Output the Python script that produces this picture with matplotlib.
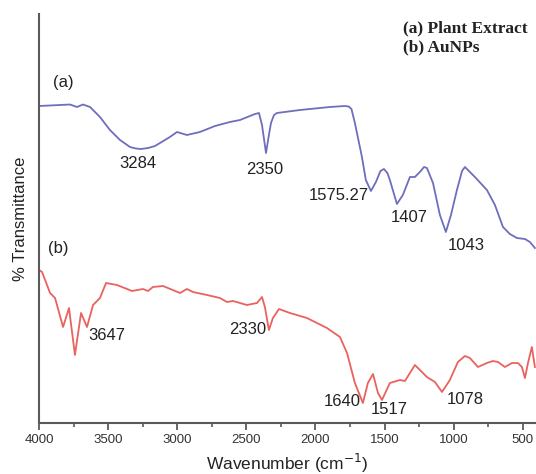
import numpy as np
import matplotlib
matplotlib.use("Agg")
import matplotlib.pyplot as plt
from matplotlib.ticker import MultipleLocator

# FTIR spectra, transmittance in arbitrary units (curves offset vertically)
wn_a = [4000, 3848, 3776, 3725, 3682, 3631, 3559, 3487, 3414, 3342, 3300,
        3262, 3210, 3161, 3053, 3002, 2930, 2836, 2727, 2619, 2546, 2438,
        2409, 2387, 2358, 2337, 2322, 2300, 2279, 2112, 1896, 1787, 1760,
        1740, 1715, 1664, 1636, 1599, 1563, 1530, 1505, 1480, 1462, 1411,
        1368, 1317, 1281, 1245, 1215, 1194, 1150, 1100, 1057, 1020, 977,
        940, 919, 847, 760, 702, 644, 594, 543, 485, 449, 413]
tr_a = [317, 318, 318.5, 316, 318.5, 316, 306, 293, 283, 276, 274.5,
        274, 275, 277, 286, 291, 288, 291, 297, 301, 303, 309,
        310, 298, 270, 288, 300, 308, 310, 313, 316, 317, 316.5,
        314, 300, 266, 243, 232, 241, 252, 254, 250, 243, 219,
        228, 246, 246, 251, 256, 255, 240, 208, 191, 208, 233,
        252, 256, 246, 233, 218, 196, 189, 185, 184, 181, 175]

wn_b = [4000, 3978, 3920, 3884, 3826, 3783, 3740, 3696, 3653, 3609, 3559,
        3515, 3436, 3327, 3248, 3212, 3176, 3103, 2980, 2930, 2886, 2785,
        2691, 2640, 2597, 2496, 2423, 2387, 2366, 2337, 2308, 2264, 2185,
        2062, 1917, 1823, 1772, 1715, 1657, 1621, 1584, 1548, 1519, 1462,
        1389, 1353, 1281, 1194, 1136, 1085, 1028, 970, 919, 883, 825, 760,
        717, 680, 630, 579, 536, 507, 485, 463, 435, 413]
tr_b = [153, 151, 130, 125, 96, 115, 68, 110, 96, 118, 125,
        140, 138, 132, 134, 132, 136, 137, 130, 134, 131, 128,
        125, 121, 122, 118, 120, 126, 116, 93, 105, 114, 110,
        105, 95, 86, 70, 40, 20, 40, 49, 30, 23, 40,
        43, 42, 58, 46, 41, 31, 43, 61, 67, 65, 56, 60,
        62, 61, 56, 60, 60, 56, 45, 60, 76, 56]

# peak labels
labels_a = ["3284", "2350", "1575.27", "1407", "1043"]
label_pos_a = [(3284, 260), (2366, 254), (1830, 227), (1324, 205), (912, 178)]
labels_b = ["3647", "2330", "1640", "1517", "1078"]
label_pos_b = [(3508, 88), (2488, 93), (1809, 21), (1469, 13), (919, 23)]

color_a = "#6e6ebd"
color_b = "#e9625e"
axis_color = "#5a5a5a"
sans = ["Liberation Sans", "DejaVu Sans"]

fig = plt.figure(figsize=(5.36, 4.74), dpi=100)
ax = fig.add_axes([39 / 536, 1 - 423 / 474, 1 - 39 / 536, (423 - 14) / 474])

ax.plot(wn_a, tr_a, color=color_a, lw=1.3, solid_joinstyle="round")
ax.plot(wn_b, tr_b, color=color_b, lw=1.3, solid_joinstyle="round")

ax.set_xlim(4000, 405)
ax.set_ylim(0, 409)

for text, (x, y) in zip(labels_a + labels_b, label_pos_a + label_pos_b):
    ax.text(x, y, text, ha="center", va="center", fontsize=12,
            family=sans, color="#222222")

ax.text(3899, 341, "(a)", ha="left", va="center", fontsize=12, family=sans, color="#222222")
ax.text(3935, 175, "(b)", ha="left", va="center", fontsize=12, family=sans, color="#222222")

fig.text(403 / 536, 1 - 28 / 474, "(a) Plant Extract", ha="left", va="center",
         fontsize=12.5, family=["Liberation Serif"], fontweight="bold", color="#222222")
fig.text(403 / 536, 1 - 47 / 474, "(b) AuNPs", ha="left", va="center",
         fontsize=12.5, family=["Liberation Serif"], fontweight="bold", color="#222222")

for side in ["top", "right"]:
    ax.spines[side].set_visible(False)
for side in ["left", "bottom"]:
    ax.spines[side].set_color(axis_color)
    ax.spines[side].set_linewidth(1.5)

ax.xaxis.set_major_locator(MultipleLocator(500))
ax.xaxis.set_minor_locator(MultipleLocator(250))
ax.tick_params(axis="x", which="major", direction="out", length=5, width=1.3,
               color=axis_color, pad=3, labelsize=9.5, labelcolor="#333333")
ax.tick_params(axis="x", which="minor", direction="out", length=3, width=1.2,
               color=axis_color)
for lab in ax.get_xticklabels():
    lab.set_family(sans)
ax.set_yticks([])

ax.set_xlabel("Wavenumber (cm$^{-1}$)", fontsize=12.5, family=sans, color="#222222", labelpad=4)
ax.set_ylabel("% Transmittance", fontsize=12, family=sans, color="#222222", labelpad=8)

fig.savefig("out.png", dpi=100)
